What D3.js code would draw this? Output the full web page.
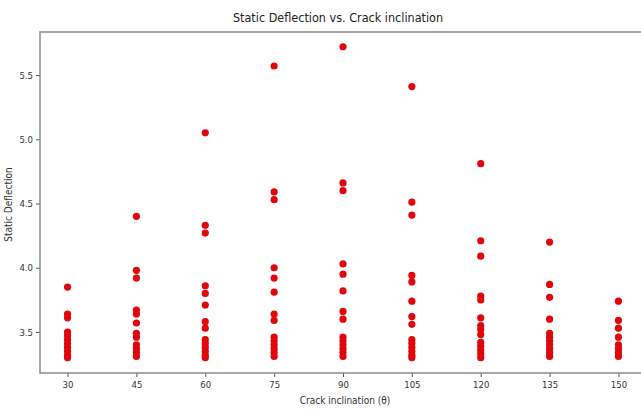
<!DOCTYPE html>
<html><head><meta charset="utf-8">
<script src="https://cdn.jsdelivr.net/npm/d3@7"></script>
<style>body{margin:0;background:#fff}svg{display:block}text{font-family:"DejaVu Sans Condensed","DejaVu Sans",sans-serif;font-stretch:condensed}</style>
</head><body>
<svg id="c" width="641" height="411"></svg>
<script>
const inclinations = [30, 45, 60, 75, 90, 105, 120, 135, 150];
const d30  = [3.85, 3.64, 3.61, 3.50, 3.47, 3.44, 3.41, 3.38, 3.35, 3.32, 3.30];
const d45  = [4.40, 3.98, 3.92, 3.67, 3.64, 3.57, 3.49, 3.46, 3.40, 3.37, 3.34, 3.31];
const d60  = [5.05, 4.33, 4.27, 3.86, 3.80, 3.71, 3.58, 3.53, 3.44, 3.41, 3.38, 3.35, 3.32, 3.30];
const d75  = [5.57, 4.59, 4.53, 4.00, 3.92, 3.81, 3.64, 3.59, 3.46, 3.43, 3.40, 3.37, 3.34, 3.31];
const d90  = [5.72, 4.66, 4.60, 4.03, 3.95, 3.82, 3.66, 3.60, 3.46, 3.43, 3.40, 3.37, 3.34, 3.31];
const d105 = [5.41, 4.51, 4.41, 3.94, 3.89, 3.74, 3.62, 3.56, 3.44, 3.41, 3.38, 3.35, 3.32, 3.30];
const d120 = [4.81, 4.21, 4.09, 3.78, 3.75, 3.61, 3.55, 3.52, 3.48, 3.42, 3.39, 3.36, 3.33, 3.30];
const d135 = [4.20, 3.87, 3.77, 3.60, 3.49, 3.46, 3.43, 3.40, 3.37, 3.34, 3.31];
const d150 = [3.74, 3.59, 3.53, 3.46, 3.40, 3.37, 3.34, 3.31];
const yTicks = [3.5, 4.0, 4.5, 5.0, 5.5];
const title = "Static Deflection vs. Crack inclination";
const xLabel = "Crack inclination (θ)";
const yLabel = "Static Deflection";

const series = [d30, d45, d60, d75, d90, d105, d120, d135, d150];
const points = [];
inclinations.forEach((inc, i) => series[i].forEach(v => points.push({x: inc, y: v})));

const svg = d3.select("#c");
const L = 40, R = 646, T = 32, B = 373;
const x = d3.scaleLinear().domain([24, 156]).range([L, R]);
const y = d3.scaleLinear().domain([3.5 - 41/128.5, 3.5 + 300/128.5]).range([B, T]);

// points
svg.append("g").selectAll("circle").data(points).join("circle")
  .attr("cx", d => x(d.x)).attr("cy", d => y(d.y)).attr("r", 3.6)
  .attr("fill", "#e0060c");

// axes
const xa = svg.append("g").attr("transform", `translate(0,${B})`)
  .call(d3.axisBottom(x).tickValues(inclinations).tickSize(4).tickPadding(4).tickFormat(d3.format("d")));
const ya = svg.append("g").attr("transform", `translate(${L},0)`)
  .call(d3.axisLeft(y).tickValues(yTicks).tickSize(4).tickPadding(3).tickFormat(d3.format(".1f")));
[xa, ya].forEach(a => {
  a.select(".domain").remove();
  a.selectAll("line").attr("stroke", "#555");
  a.selectAll("text").attr("fill", "#333").style("font-size", "9.5px");
});

// spines
svg.append("rect").attr("x", L).attr("y", T).attr("width", R - L).attr("height", B - T)
  .attr("fill", "none").attr("stroke", "#8a8a8a").attr("stroke-width", 1.5);

svg.append("text").attr("x", 338).attr("y", 22).attr("text-anchor", "middle")
  .style("font-size", "12.5px").attr("fill", "#222").text(title);
svg.append("text").attr("x", 345).attr("y", 404).attr("text-anchor", "middle")
  .style("font-size", "10px").attr("fill", "#333").text(xLabel);
svg.append("text").attr("transform", `translate(12,${(T + B) / 2 + 2}) rotate(-90)`).attr("text-anchor", "middle")
  .style("font-size", "10px").attr("fill", "#333").text(yLabel);
</script>
</body></html>
